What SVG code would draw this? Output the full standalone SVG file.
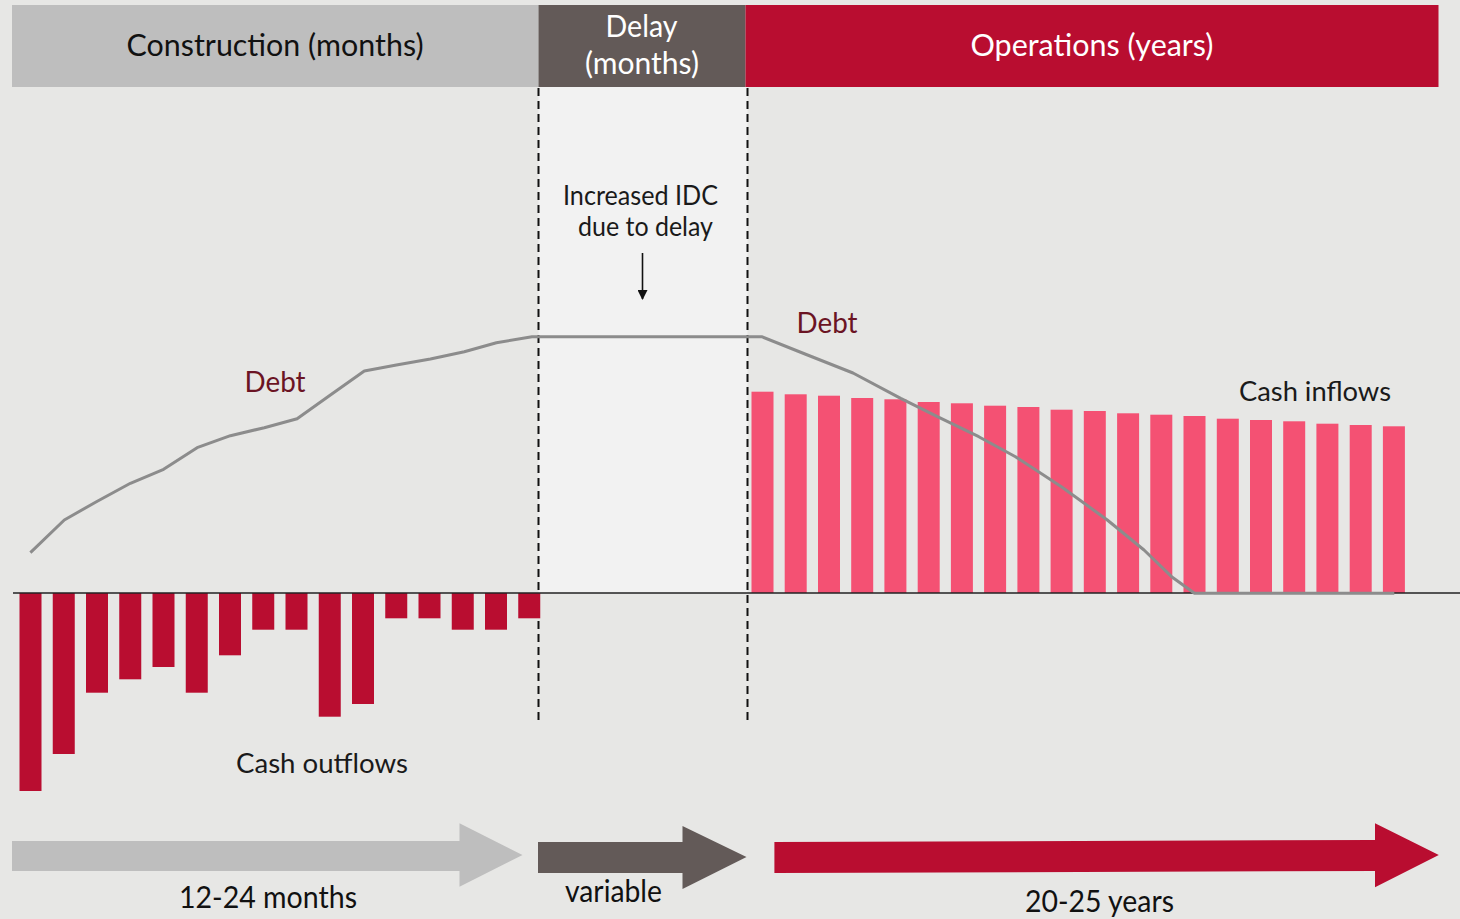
<svg xmlns="http://www.w3.org/2000/svg" width="1460" height="919" viewBox="0 0 1460 919">
  <defs>
    <style>
      .txt { font-family: Lato, "Liberation Sans", sans-serif; }
      .hdr { font-size: 30px; }
      .lbl { font-size: 26px; fill: #1a1a1a; }
      .dur { font-size: 31px; fill: #111; }
      .debt { font-size: 28px; fill: #6b1424; }
      .out { fill: #b90d30; }
      .in { fill: #f45173; }
      .dash { stroke: #111; stroke-width: 2; stroke-dasharray: 8 5; fill: none; }
      .debtline { stroke: #8c8c8c; stroke-width: 3; fill: none; stroke-linejoin: round; }
    </style>
    <marker id="tip" viewBox="0 0 10 10" refX="9" refY="5" markerWidth="10" markerHeight="10" markerUnits="userSpaceOnUse" orient="auto">
      <path d="M0,0 L10,5 L0,10 Z" fill="#111"/>
    </marker>
  </defs>

  <!-- canvas -->
  <rect x="0" y="0" width="1460" height="919" fill="#e7e7e5"/>
  <!-- delay period band -->
  <rect x="538.5" y="87" width="209" height="506" fill="#f2f2f2"/>

  <!-- phase boundaries -->
  <g id="boundaries">
    <line class="dash" x1="538.5" y1="88" x2="538.5" y2="725"/>
    <line class="dash" x1="747.5" y1="88" x2="747.5" y2="722"/>
  </g>

  <!-- construction outflows -->
  <g id="cash-outflows">
    <rect class="out" x="19.5" y="593" width="22" height="198"/>
    <rect class="out" x="52.75" y="593" width="22" height="161"/>
    <rect class="out" x="86" y="593" width="22" height="99.7"/>
    <rect class="out" x="119.25" y="593" width="22" height="86.3"/>
    <rect class="out" x="152.5" y="593" width="22" height="74"/>
    <rect class="out" x="185.75" y="593" width="22" height="99.7"/>
    <rect class="out" x="219" y="593" width="22" height="62.3"/>
    <rect class="out" x="252.25" y="593" width="22" height="36.7"/>
    <rect class="out" x="285.5" y="593" width="22" height="36.7"/>
    <rect class="out" x="318.75" y="593" width="22" height="123.7"/>
    <rect class="out" x="352" y="593" width="22" height="111"/>
    <rect class="out" x="385.25" y="593" width="22" height="25.3"/>
    <rect class="out" x="418.5" y="593" width="22" height="25.3"/>
    <rect class="out" x="451.75" y="593" width="22" height="36.7"/>
    <rect class="out" x="485" y="593" width="22" height="36.7"/>
    <rect class="out" x="518.25" y="593" width="22" height="25.3"/>
  </g>

  <!-- operations inflows -->
  <g id="cash-inflows">
    <rect class="in" x="751.5" y="391.7" width="22" height="201.3"/>
    <rect class="in" x="784.7" y="394.3" width="22" height="198.7"/>
    <rect class="in" x="818" y="395.7" width="22" height="197.3"/>
    <rect class="in" x="851.2" y="398" width="22" height="195"/>
    <rect class="in" x="884.4" y="399.3" width="22" height="193.7"/>
    <rect class="in" x="917.7" y="402" width="22" height="191"/>
    <rect class="in" x="950.9" y="403.3" width="22" height="189.7"/>
    <rect class="in" x="984.1" y="405.7" width="22" height="187.3"/>
    <rect class="in" x="1017.4" y="407" width="22" height="186"/>
    <rect class="in" x="1050.6" y="409.7" width="22" height="183.3"/>
    <rect class="in" x="1083.8" y="411" width="22" height="182"/>
    <rect class="in" x="1117.1" y="413.3" width="22" height="179.7"/>
    <rect class="in" x="1150.3" y="414.7" width="22" height="178.3"/>
    <rect class="in" x="1183.5" y="416" width="22" height="177"/>
    <rect class="in" x="1216.8" y="418.7" width="22" height="174.3"/>
    <rect class="in" x="1250" y="420" width="22" height="173"/>
    <rect class="in" x="1283.2" y="421.3" width="22" height="171.7"/>
    <rect class="in" x="1316.4" y="423.7" width="22" height="169.3"/>
    <rect class="in" x="1349.7" y="425" width="22" height="168"/>
    <rect class="in" x="1382.9" y="426.3" width="22" height="166.7"/>
  </g>

  <!-- zero axis -->
  <line x1="13" y1="593" x2="1460" y2="593" stroke="#222" stroke-width="1.5"/>

  <!-- outstanding debt balance -->
  <g id="debt-curve">
    <path class="debtline" d="M30.4,552.7 L64.3,520 L96.4,501.7 L130.4,483.3 L163.6,469.3 L197.1,447.7 L230.4,435.7 L264.3,427.7 L297.1,418.7 L330.4,395 L364.3,371 L396.4,365 L430.4,359 L464.3,351.7 L496.4,342.7 L532,336.7 L761.7,336.7 L805,354 L853,373 L900.7,398.3 L937.4,416.7 L978.8,436.7 L1015.5,456.7 L1061.4,486.7 L1107.3,520 L1144,550 L1171.6,576.7 L1194.5,593.3 L1394.3,593.3"/>
  </g>

  <!-- phase headers -->
  <g id="header-construction">
    <rect x="12" y="5" width="526.5" height="82" fill="#bebebe"/>
    <text class="txt hdr" x="275" y="56" text-anchor="middle" fill="#111" textLength="297" lengthAdjust="spacingAndGlyphs">Construction (months)</text>
  </g>
  <g id="header-delay">
    <rect x="538.5" y="5" width="207" height="82" fill="#635a58"/>
    <text class="txt hdr" x="641.5" y="37" text-anchor="middle" fill="#fff" textLength="72" lengthAdjust="spacingAndGlyphs">Delay</text>
    <text class="txt hdr" x="642" y="74" text-anchor="middle" fill="#fff" textLength="114" lengthAdjust="spacingAndGlyphs">(months)</text>
  </g>
  <g id="header-operations">
    <rect x="745.5" y="5" width="693" height="82" fill="#b90d30"/>
    <text class="txt hdr" x="1092" y="55.5" text-anchor="middle" fill="#fff" textLength="243" lengthAdjust="spacingAndGlyphs">Operations (years)</text>
  </g>

  <!-- chart labels -->
  <g id="label-debt-construction">
    <text class="txt debt" x="275" y="391.5" text-anchor="middle" textLength="61" lengthAdjust="spacingAndGlyphs">Debt</text>
  </g>
  <g id="label-debt-operations">
    <text class="txt debt" x="827" y="333.3" text-anchor="middle" textLength="61" lengthAdjust="spacingAndGlyphs">Debt</text>
  </g>
  <g id="label-idc">
    <text class="txt lbl" x="640.5" y="205" text-anchor="middle" textLength="155" lengthAdjust="spacingAndGlyphs">Increased IDC</text>
    <text class="txt lbl" x="645.5" y="236" text-anchor="middle" textLength="135" lengthAdjust="spacingAndGlyphs">due to delay</text>
  </g>
  <g id="label-inflows">
    <text class="txt lbl" x="1315" y="401" text-anchor="middle" textLength="152" lengthAdjust="spacingAndGlyphs">Cash inflows</text>
  </g>
  <g id="label-outflows">
    <text class="txt lbl" x="322" y="773.3" text-anchor="middle" textLength="172" lengthAdjust="spacingAndGlyphs">Cash outflows</text>
  </g>

  <!-- pointer from IDC note to the flat debt line -->
  <g id="connectors">
    <line x1="642.5" y1="253" x2="642.5" y2="299" stroke="#111" stroke-width="1.6" marker-end="url(#tip)"/>
  </g>

  <!-- duration arrows -->
  <g id="duration-construction">
    <polygon points="12,841 459.5,841 459.5,823.3 522.5,855 459.5,886.7 459.5,871 12,871" fill="#bebebe"/>
    <text class="txt dur" x="268" y="907.5" text-anchor="middle" textLength="178" lengthAdjust="spacingAndGlyphs">12-24 months</text>
  </g>
  <g id="duration-delay">
    <polygon points="538,842 682.5,842 682.5,826 746.5,857 682.5,889 682.5,873 538,873" fill="#635a58"/>
    <text class="txt dur" x="613.5" y="902" text-anchor="middle" font-size="28" textLength="97" lengthAdjust="spacingAndGlyphs">variable</text>
  </g>
  <g id="duration-operations">
    <polygon points="774.4,842 1375,840 1375,823.3 1438.8,855 1375,887.3 1375,871 774.4,873" fill="#b90d30"/>
    <text class="txt dur" x="1099.5" y="912" text-anchor="middle" textLength="149" lengthAdjust="spacingAndGlyphs">20-25 years</text>
  </g>
</svg>
